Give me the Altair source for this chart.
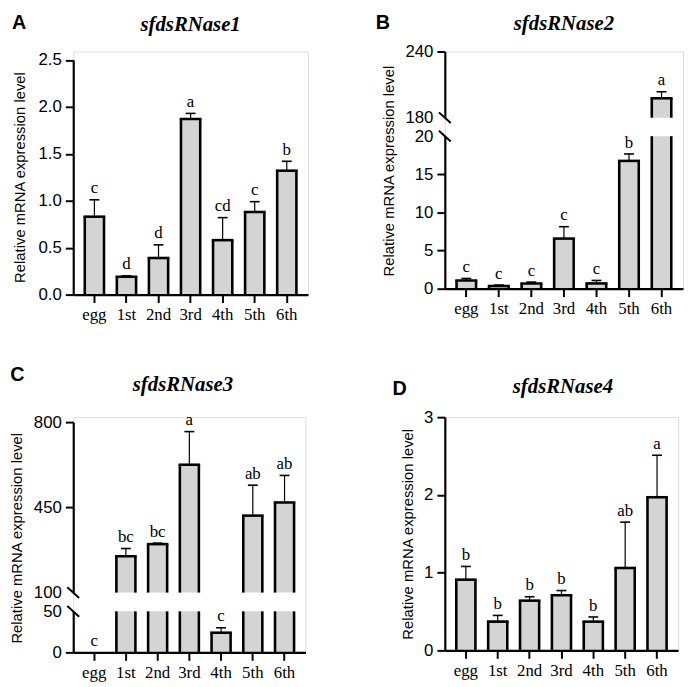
import altair as alt
import pandas as pd

stages = ["egg", "1st", "2nd", "3rd", "4th", "5th", "6th"]

a_mean = [0.83, 0.19, 0.39, 1.87, 0.58, 0.88, 1.32]
a_sem = [0.18, 0.01, 0.14, 0.06, 0.24, 0.11, 0.10]
a_sig = ["c", "d", "d", "a", "cd", "c", "b"]

b_mean = [1.08, 0.35, 0.69, 6.57, 0.69, 16.76, 197.6]
b_sem = [0.26, 0.13, 0.18, 1.56, 0.39, 0.91, 5.9]
b_sig = ["c", "c", "c", "c", "c", "b", "a"]

c_mean = [0, 249, 299, 625, 24, 416, 470]
c_sem = [0, 32, 4, 136, 6, 125, 111]
c_sig = ["c", "bc", "bc", "a", "c", "ab", "ab"]

d_mean = [0.91, 0.37, 0.64, 0.71, 0.37, 1.06, 1.97]
d_sem = [0.17, 0.08, 0.05, 0.06, 0.06, 0.59, 0.54]
d_sig = ["b", "b", "b", "b", "b", "ab", "a"]

FILL = "#d4d4d4"
SW = 2.6
PI, PO = 0.4, 0.36
YTITLE = "Relative mRNA expression level"

XAXIS = alt.Axis(
    orient="bottom", labelAngle=0, labelFont="Liberation Serif", labelFontSize=17,
    labelColor="black", tickSize=8, tickWidth=2, tickColor="black",
    domainColor="black", domainWidth=2.2, labelPadding=4, grid=False, zindex=1,
)


def make_df(mean, sem, sig):
    df = pd.DataFrame({"stage": stages, "mean": mean, "sem": sem, "sig": sig})
    df["top"] = df["mean"] + df["sem"]
    return df


def xenc(band_pos=None):
    kw = {}
    if band_pos is not None:
        kw["bandPosition"] = band_pos
    return alt.X("stage:N", sort=stages, title=None,
                 scale=alt.Scale(domain=stages, paddingInner=PI, paddingOuter=PO),
                 axis=XAXIS, **kw)


def segment(df, width, lo, hi, rng, ticks, fmt, brk=None, title_xy=None):
    ys = alt.Scale(domain=[lo, hi], range=rng, clamp=True, nice=False, zero=False)
    ax = dict(orient="left", values=ticks, format=fmt, grid=False,
              labelFont="Liberation Sans", labelFontSize=17, labelColor="black",
              labelPadding=4, tickSize=8, tickWidth=2, tickColor="black",
              domainColor="black", domainWidth=2.2, zindex=1)
    if brk is not None:
        ax["tickOpacity"] = {"condition": {"test": f"datum.value == {brk}", "value": 0}, "value": 1}
    if title_xy is not None:
        ax.update(title=YTITLE, titleX=title_xy[0], titleY=title_xy[1], titleAngle=270,
                  titleAlign="center", titleBaseline="middle", titleFont="Liberation Sans",
                  titleFontSize=15, titleFontWeight="normal", titleColor="black")
    else:
        ax["title"] = None
    yax = alt.Axis(**ax)

    def Y(field):
        return alt.Y(field, type="quantitative", scale=ys, axis=yax)

    base = alt.Chart(df)
    above = f"datum.mean > {lo}"
    in_seg = f"datum.mean >= {lo} && datum.mean <= {hi}"
    bw = width / (7 - PI + 2 * PO) * (1 - PI)
    layers = [
        base.mark_bar(color=FILL, strokeWidth=0, opacity=1)
        .encode(x=xenc(), y=Y("mean"), y2=alt.datum(lo)).transform_filter(above),
        base.mark_rule(color="black", strokeWidth=SW, opacity=1)
        .encode(x=xenc(0), y=Y("mean"), y2=alt.datum(lo)).transform_filter(above),
        base.mark_rule(color="black", strokeWidth=SW, opacity=1)
        .encode(x=xenc(1), y=Y("mean"), y2=alt.datum(lo)).transform_filter(above),
        base.mark_tick(color="black", thickness=SW, size=bw + SW, opacity=1)
        .encode(x=xenc(), y=Y("mean")).transform_filter(f"{above} && datum.mean <= {hi}"),
        base.mark_rule(color="black", strokeWidth=1.2, opacity=1)
        .encode(x=xenc(), y=Y("mean"), y2=alt.Y2("top"))
        .transform_filter(f"{in_seg} && datum.sem > 0"),
        base.mark_tick(color="black", thickness=1.6, size=10, opacity=1)
        .encode(x=xenc(), y=Y("top")).transform_filter(f"{in_seg} && datum.sem > 0"),
        base.mark_text(font="Liberation Serif", fontSize=17, color="black",
                       baseline="alphabetic", dy=-6.5)
        .encode(x=xenc(), y=Y("top"), text="sig:N").transform_filter(in_seg),
    ]
    if brk is not None:
        layers.append(
            alt.Chart(pd.DataFrame({"v": [brk]}))
            .mark_point(shape="M-1,-0.9L1,0.9", size=144, filled=False, color="black",
                        strokeWidth=2, opacity=1)
            .encode(x=alt.value(0), y=Y("v"))
        )
    return alt.layer(*layers)


def annot(letter, lxy, gene, gxy):
    d = pd.DataFrame({"letter": [letter], "gene": [gene]})
    t1 = alt.Chart(d).mark_text(font="Liberation Sans", fontWeight="bold", fontSize=20,
                                align="left", baseline="alphabetic", color="black").encode(
        x=alt.value(lxy[0]), y=alt.value(lxy[1]), text="letter:N")
    t2 = alt.Chart(d).mark_text(font="Liberation Serif", fontStyle="italic", fontWeight="bold",
                                fontSize=21, align="center", baseline="alphabetic",
                                color="black").encode(
        x=alt.value(gxy[0]), y=alt.value(gxy[1]), text="gene:N")
    return [t1, t2]


# Panel A
wA, hA = 237.5, 246
dfA = make_df(a_mean, a_sem, a_sig)
pA = alt.layer(
    segment(dfA, wA, 0, 2.5, [246, 8.5], [0, 0.5, 1, 1.5, 2, 2.5], ".1f", title_xy=(-54.5, 127)),
    *annot("A", (-62, -23), "sfdsRNase1", (wA / 2, -21)),
).properties(width=wA, height=hA)

# Panel B
wB, hB = 241, 240
dfB = make_df(b_mean, b_sem, b_sig)
pB = alt.layer(
    alt.layer(
        segment(dfB, wB, 180, 240, [67, 0], [180, 240], "d", brk=180, title_xy=(-57, 120.5)),
        segment(dfB, wB, 0, 20, [240, 85.7], [0, 5, 10, 15, 20], "d", brk=20),
    ).resolve_scale(y="independent"),
    *annot("B", (-70, -23), "sfdsRNase2", (wB / 2, -22)),
).properties(width=wB, height=hB)

# Panel C
wC, hC = 235, 238
dfC = make_df(c_mean, c_sem, c_sig)
pC = alt.layer(
    alt.layer(
        segment(dfC, wC, 100, 800, [177.5, 5], [100, 450, 800], "d", brk=100, title_xy=(-57.8, 122)),
        segment(dfC, wC, 0, 50, [238, 196.5], [0, 50], "d", brk=50),
    ).resolve_scale(y="independent"),
    *annot("C", (-63.7, -36.7), "sfdsRNase3", (111, -26)),
).properties(width=wC, height=hC)

# Panel D
wD, hD = 236, 236
dfD = make_df(d_mean, d_sem, d_sig)
pD = alt.layer(
    segment(dfD, wD, 0, 3, [236, 0], [0, 1, 2, 3], "d", title_xy=(-38, 118)),
    *annot("D", (-53, -22), "sfdsRNase4", (119.5, -24.3)),
).properties(width=wD, height=hD)

chart = alt.concat(
    pA, pB, pC, pD, columns=2, spacing={"row": 124, "column": 135},
    bounds="flush", align="all",
).properties(padding=0).configure_view(stroke=None).configure(background="white")

chart.save("out.html", embed_options={"renderer": "svg", "actions": False})
